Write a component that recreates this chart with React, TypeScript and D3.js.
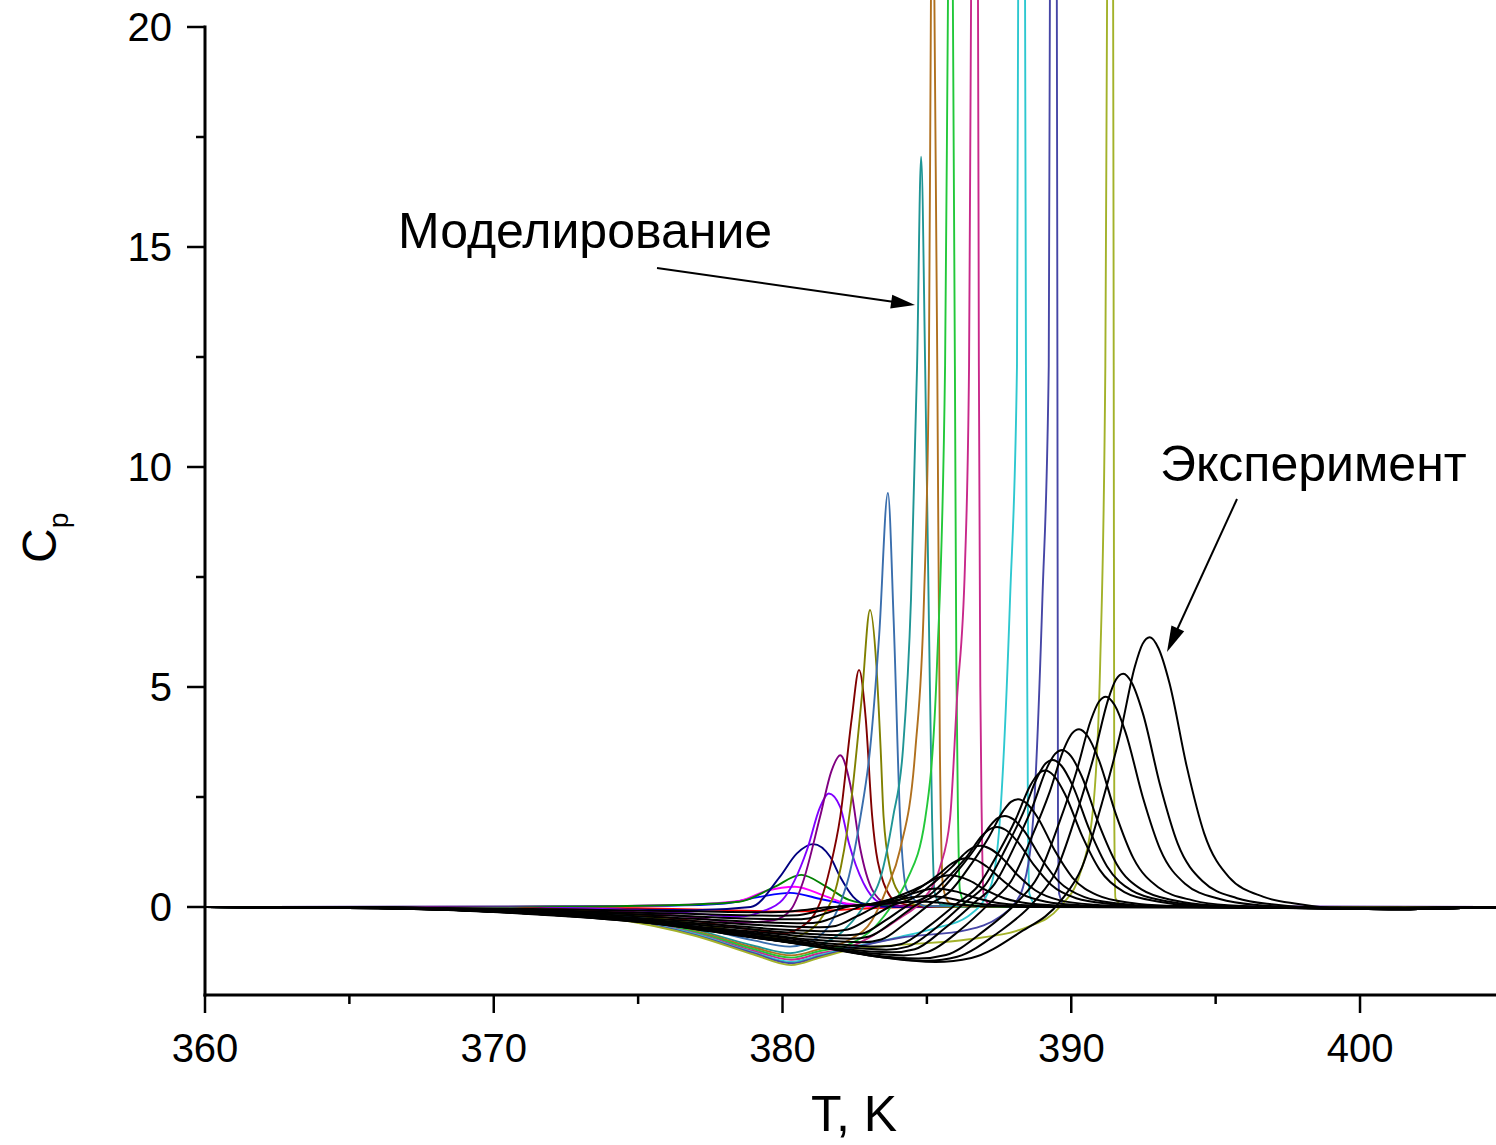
import React from 'react';
import * as d3 from 'd3';

type Pt = [number, number];

// Axis ticks
const xMajorTicks = [360, 370, 380, 390, 400];
const xMinorTicks = [365, 375, 385, 395];
const yMajorTicks = [0, 5, 10, 15, 20];
const yMinorTicks = [2.5, 7.5, 12.5, 17.5];

// Simulated Cp(T) curves ("Моделирование")
const simRed: Pt[] = [[360,0],[370,-0.01],[375,-0.03],[378,-0.07],[380,-0.1],[381.5,-0.08],[383,-0.03],[385,0],[405.5,0]];
const simBlue: Pt[] = [[360,0],[372,0.01],[376,0.03],[378,0.08],[379.2,0.23],[380.26,0.32],[381.4,0.17],[382.4,0.05],[384,0],[405.5,0]];
const simMagenta: Pt[] = [[360,0],[372,0.01],[376,0.04],[378.5,0.14],[379.46,0.37],[380.43,0.46],[381.5,0.24],[382.2,0.08],[383.5,0.01],[405.5,0]];
const simGreen: Pt[] = [[360,0],[372,0.01],[376,0.04],[378.5,0.12],[379.7,0.45],[380.65,0.73],[381.5,0.47],[382.3,0.16],[383.3,0.04],[385,0],[405.5,0]];
const simNavy: Pt[] = [[360,0],[370,-0.02],[374,-0.05],[377,-0.07],[378.9,0],[379.9,0.68],[380.5,1.22],[381.06,1.43],[381.65,1.14],[382,0.68],[382.45,0.23],[382.9,0.05],[384,0],[405.5,0]];
const simViolet: Pt[] = [[360,0],[370,-0.01],[374,-0.05],[377,-0.15],[378.5,-0.22],[379.3,-0.1],[380,0.16],[380.85,1.3],[381.3,2.27],[381.6,2.58],[382,2.27],[382.3,1.45],[382.8,0.55],[383.4,0.1],[384.5,0.01],[405.5,0]];
const simPurple: Pt[] = [[360,0],[370,-0.015],[374,-0.08],[377,-0.24],[378.5,-0.36],[379.7,-0.3],[380.3,-0.05],[380.7,0.55],[381.3,2.05],[381.7,3.1],[382,3.45],[382.34,2.8],[382.7,1.3],[383.1,0.4],[383.6,0.08],[384.5,0.01],[405.5,0]];
const simWine: Pt[] = [[360,0],[370,-0.02],[374,-0.12],[377,-0.32],[379,-0.52],[380,-0.6],[380.85,-0.36],[381.3,0.1],[381.65,0.9],[382,2.05],[382.4,4.3],[382.65,5.39],[382.88,4.3],[383.1,2.1],[383.5,0.55],[384,0.1],[385,0.01],[405.5,0]];
const simOlive: Pt[] = [[360,0],[370,-0.025],[374,-0.14],[377,-0.38],[379,-0.62],[380,-0.72],[380.9,-0.55],[381.4,-0.2],[381.9,0.55],[382.34,2.2],[382.75,4.8],[383.03,6.75],[383.25,5.5],[383.4,3.57],[383.5,2.05],[383.75,0.8],[384,0.35],[384.6,0.05],[386,0],[405.5,0]];
const simSteel: Pt[] = [[360,0],[370,-0.03],[374,-0.17],[377,-0.45],[379,-0.76],[380.26,-0.9],[381.2,-0.7],[381.9,-0.07],[382.3,0.7],[382.7,2.05],[383.03,3.57],[383.35,6.2],[383.65,9.41],[383.85,6.5],[384.07,2.05],[384.3,0.4],[385,0.02],[405.5,0]];
const simTeal: Pt[] = [[360,0],[370,-0.03],[374,-0.2],[377,-0.52],[379,-0.88],[380.26,-1.05],[381.2,-0.88],[382,-0.6],[382.8,0],[383.4,0.68],[383.83,2.05],[384.17,3.57],[384.45,7],[384.66,12.3],[384.8,17.05],[384.94,12.3],[385.07,6.5],[385.18,2],[385.26,0.35],[385.5,0.05],[387,0],[405.5,0]];
const simBrown: Pt[] = [[360,0],[370,-0.033],[374,-0.21],[377,-0.55],[379,-0.92],[380.3,-1.1],[381.3,-0.95],[382.3,-0.75],[383.1,-0.3],[383.6,0.4],[384.07,1.3],[384.6,3.57],[384.9,7],[385.07,12.3],[385.14,20.6],[385.2,26],[385.26,20.6],[385.36,12.3],[385.45,3.57],[385.56,0.45],[385.8,0.08],[387,0],[405.5,0]];
const simLime: Pt[] = [[360,0],[370,-0.035],[374,-0.22],[377,-0.57],[379,-0.96],[380.3,-1.15],[381.3,-1],[382.3,-0.85],[383.2,-0.45],[383.8,0.05],[384.3,0.6],[384.94,2],[385.35,5.5],[385.63,12.3],[385.73,20.6],[385.82,27],[385.9,20.6],[385.97,12.3],[386.02,5.5],[386.08,2],[386.14,0.4],[386.35,0.05],[388,0],[405.5,0]];
const simPink: Pt[] = [[360,0],[370,-0.04],[374,-0.23],[377,-0.6],[379,-1],[380.3,-1.2],[381.3,-1.05],[382.3,-0.92],[383.2,-0.62],[384.07,-0.25],[384.76,0.1],[385.45,0.9],[385.8,2],[386.04,4.7],[386.32,7.8],[386.46,12.3],[386.53,20.6],[386.65,27],[386.77,20.6],[386.8,12.3],[386.85,5],[386.9,2],[386.96,0.3],[387.2,0.04],[389,0],[405.5,0]];
const simCyan: Pt[] = [[360,0],[370,-0.04],[374,-0.24],[377,-0.62],[379,-1.03],[380.3,-1.25],[381.3,-1.09],[382.3,-0.93],[384.07,-0.68],[385.3,-0.48],[386.4,-0.22],[387.2,0.45],[387.53,2],[387.88,7],[388.12,12.3],[388.16,20.6],[388.28,27],[388.4,20.6],[388.43,12.3],[388.46,7],[388.5,2],[388.55,0.3],[388.8,0.03],[390,0],[405.5,0]];
const simSlate: Pt[] = [[360,0],[370,-0.04],[374,-0.24],[377,-0.64],[379,-1.05],[380.3,-1.28],[381.3,-1.12],[382.3,-0.95],[384.07,-0.7],[386.4,-0.52],[387.53,-0.22],[388,0.05],[388.33,0.45],[388.68,2],[389,7],[389.22,12.3],[389.26,20.6],[389.38,27],[389.5,20.6],[389.52,12.3],[389.54,2],[389.58,0.3],[389.8,0.02],[391,0],[405.5,0]];
const simYellow: Pt[] = [[360,0],[370,-0.04],[374,-0.25],[377,-0.66],[379,-1.08],[380.3,-1.32],[381.3,-1.15],[382.3,-0.98],[384.07,-0.86],[386.4,-0.74],[388.5,-0.45],[389.6,0],[390.3,0.75],[390.75,2.2],[391,5.5],[391.18,12.3],[391.24,20.6],[391.35,27],[391.45,20.6],[391.47,12.3],[391.49,2],[391.53,0.2],[391.8,0.02],[393,0],[405.5,0]];

const simSeries: Pt[][] = [simRed, simBlue, simMagenta, simGreen, simNavy, simViolet, simPurple, simWine, simOlive, simSteel, simTeal, simBrown, simLime, simPink, simCyan, simSlate, simYellow];
const simColors = ['#ff0000', '#0000ff', '#ff00ff', '#008000', '#000080', '#8000ff', '#800080', '#800000', '#808000', '#3a6ead', '#1f9595', '#b0701e', '#22c83a', '#c8288a', '#2ec8d0', '#4646a6', '#a3b22a'];

// Measured Cp(T) curves ("Эксперимент")
const expA: Pt[] = [[360,0],[366,-0.03],[370,-0.09],[374,-0.25],[377,-0.45],[379.5,-0.73],[381.75,-0.95],[383.5,-1.15],[385.3,-1.25],[386.54,-1.16],[388.17,-0.6],[389.66,0.16],[390.37,0.9],[391.1,2.45],[391.7,3.95],[392.2,5.46],[392.47,5.98],[392.72,6.13],[393.02,5.88],[393.4,5.09],[394,3.19],[394.6,1.68],[395.46,0.68],[396.66,0.23],[397.86,0.07],[399.5,-0.04],[401.5,-0.05],[403.5,-0.02],[405.5,0]];
const expB: Pt[] = [[360,0],[366,-0.03],[373.7,-0.24],[376.7,-0.44],[379.2,-0.71],[381.45,-0.93],[383.2,-1.12],[385,-1.22],[386.05,-1.13],[387.45,-0.59],[388.74,0.14],[389.45,0.78],[390.18,2.12],[390.78,3.42],[391.28,4.72],[391.55,5.17],[391.8,5.3],[392.1,5.09],[392.48,4.4],[393.08,2.76],[393.68,1.45],[394.54,0.59],[395.74,0.2],[396.94,0.06],[399.5,-0.04],[401.5,-0.05],[403.5,-0.02],[405.5,0]];
const expC: Pt[] = [[360,0],[366,-0.03],[373.4,-0.23],[376.4,-0.42],[378.9,-0.68],[381.15,-0.89],[382.9,-1.08],[384.7,-1.17],[385.66,-1.09],[386.94,-0.56],[388.14,0.12],[388.85,0.7],[389.58,1.91],[390.18,3.08],[390.68,4.25],[390.95,4.66],[391.2,4.78],[391.5,4.59],[391.88,3.97],[392.48,2.49],[393.08,1.31],[393.94,0.53],[395.14,0.18],[396.34,0.05],[399.5,-0.04],[401.5,-0.05],[403.5,-0.02],[405.5,0]];
const expD: Pt[] = [[360,0],[366,-0.03],[372.9,-0.22],[375.9,-0.4],[378.4,-0.64],[380.65,-0.84],[382.4,-1.01],[384.2,-1.1],[385.03,-1.02],[386.14,-0.53],[387.21,0.11],[387.92,0.59],[388.65,1.62],[389.25,2.61],[389.75,3.6],[390.02,3.94],[390.27,4.04],[390.57,3.88],[390.95,3.35],[391.55,2.1],[392.15,1.11],[393.01,0.45],[394.21,0.15],[395.41,0.04],[399.5,-0.04],[401.5,-0.05],[403.5,-0.02],[405.5,0]];
const expE: Pt[] = [[360,0],[366,-0.026],[372.5,-0.21],[375.5,-0.37],[378,-0.6],[380.25,-0.78],[382,-0.95],[383.8,-1.03],[384.58,-0.96],[385.61,-0.49],[386.63,0.09],[387.34,0.52],[388.07,1.43],[388.67,2.3],[389.17,3.18],[389.44,3.48],[389.69,3.57],[389.99,3.43],[390.37,2.96],[390.97,1.86],[391.57,0.98],[392.43,0.4],[393.63,0.14],[394.83,0.04],[399.5,-0.04],[401.5,-0.05],[403.5,-0.02],[405.5,0]];
const expF: Pt[] = [[360,0],[366,-0.024],[372.3,-0.19],[375.3,-0.35],[377.8,-0.56],[380.05,-0.74],[381.8,-0.89],[383.6,-0.97],[384.34,-0.9],[385.32,-0.47],[386.3,0.09],[387.01,0.49],[387.74,1.34],[388.34,2.15],[388.84,2.97],[389.11,3.26],[389.36,3.34],[389.66,3.21],[390.04,2.77],[390.64,1.74],[391.24,0.92],[392.1,0.37],[393.3,0.13],[394.5,0.04],[399.5,-0.04],[401.5,-0.05],[403.5,-0.02],[405.5,0]];
const expG: Pt[] = [[360,0],[366,-0.022],[372.1,-0.18],[375.1,-0.32],[377.6,-0.52],[379.85,-0.68],[381.6,-0.83],[383.4,-0.9],[384.12,-0.84],[385.08,-0.43],[386.04,0.08],[386.75,0.46],[387.48,1.24],[388.08,2],[388.58,2.76],[388.85,3.02],[389.1,3.1],[389.4,2.98],[389.78,2.57],[390.38,1.61],[390.98,0.85],[391.84,0.34],[393.04,0.12],[394.24,0.03],[399.5,-0.04],[401.5,-0.05],[403.5,-0.02],[405.5,0]];
const expH: Pt[] = [[360,0],[366,-0.02],[371.5,-0.16],[374.5,-0.29],[377,-0.46],[379.25,-0.61],[381,-0.74],[382.8,-0.8],[383.42,-0.74],[384.24,-0.38],[385.1,0.06],[385.81,0.36],[386.54,0.98],[387.14,1.58],[387.64,2.18],[387.91,2.39],[388.16,2.45],[388.46,2.35],[388.84,2.03],[389.44,1.27],[390.04,0.67],[390.9,0.27],[392.1,0.09],[393.3,0.03],[399.5,-0.03],[401.5,-0.04],[403.5,-0.02],[405.5,0]];
const expI: Pt[] = [[360,0],[366,-0.018],[371.1,-0.14],[374.1,-0.26],[376.6,-0.42],[378.85,-0.55],[380.6,-0.66],[382.4,-0.72],[383,-0.67],[383.8,-0.35],[384.64,0.05],[385.35,0.3],[386.08,0.83],[386.68,1.34],[387.18,1.84],[387.45,2.02],[387.7,2.07],[388,1.99],[388.38,1.72],[388.98,1.08],[389.58,0.57],[390.44,0.23],[391.64,0.08],[392.84,0.02],[399.5,-0.03],[401.5,-0.04],[403.5,-0.02],[405.5,0]];
const expJ: Pt[] = [[360,0],[366,-0.016],[370.9,-0.13],[373.9,-0.23],[376.4,-0.37],[378.65,-0.49],[380.4,-0.59],[382.2,-0.64],[382.78,-0.6],[383.55,-0.31],[384.37,0.05],[385.08,0.27],[385.81,0.73],[386.41,1.17],[386.91,1.62],[387.18,1.77],[387.43,1.82],[387.73,1.75],[388.11,1.51],[388.71,0.95],[389.31,0.5],[390.17,0.2],[391.37,0.07],[392.57,0.02],[399.5,-0.03],[401.5,-0.04],[403.5,-0.02],[405.5,0]];
const expK: Pt[] = [[360,0],[366,-0.014],[370.4,-0.11],[373.4,-0.2],[375.9,-0.32],[378.15,-0.42],[379.9,-0.51],[381.7,-0.55],[382.26,-0.51],[383.01,-0.26],[383.81,0.04],[384.52,0.2],[385.25,0.56],[385.85,0.9],[386.35,1.24],[386.62,1.36],[386.87,1.39],[387.17,1.33],[387.55,1.15],[388.15,0.72],[388.75,0.38],[389.61,0.15],[390.81,0.05],[392.01,0.02],[399.5,-0.03],[401.5,-0.04],[403.5,-0.02],[405.5,0]];
const expL: Pt[] = [[360,0],[366,-0.012],[370,-0.09],[373,-0.17],[375.5,-0.27],[377.75,-0.35],[379.5,-0.42],[381.3,-0.46],[381.84,-0.43],[382.55,-0.22],[383.33,0.03],[384.04,0.16],[384.77,0.44],[385.37,0.72],[385.87,0.99],[386.14,1.08],[386.39,1.11],[386.69,1.07],[387.07,0.92],[387.67,0.58],[388.27,0.3],[389.13,0.12],[390.33,0.04],[391.53,0.01],[399.5,-0.02],[401.5,-0.03],[403.5,-0.01],[405.5,0]];
const expM: Pt[] = [[360,0],[366,-0.009],[369.5,-0.07],[372.5,-0.13],[375,-0.21],[377.25,-0.28],[379,-0.34],[380.8,-0.37],[381.31,-0.34],[381.99,-0.18],[382.74,0.02],[383.45,0.11],[384.18,0.29],[384.78,0.46],[385.28,0.64],[385.55,0.7],[385.8,0.72],[386.1,0.69],[386.48,0.6],[387.08,0.37],[387.68,0.2],[388.54,0.08],[389.74,0.03],[390.94,0.01],[399.5,-0.02],[401.5,-0.03],[403.5,-0.01],[405.5,0]];
const expN: Pt[] = [[360,0],[366,-0.007],[369.1,-0.056],[372.1,-0.1],[374.6,-0.16],[376.85,-0.21],[378.6,-0.26],[380.4,-0.28],[380.9,-0.26],[381.56,-0.13],[382.29,0.01],[383,0.06],[383.73,0.17],[384.33,0.27],[384.83,0.37],[385.1,0.41],[385.35,0.42],[385.65,0.4],[386.03,0.35],[386.63,0.22],[387.23,0.12],[388.09,0.05],[389.29,0.02],[390.49,0],[399.5,-0.02],[401.5,-0.02],[403.5,-0.01],[405.5,0]];
const expO: Pt[] = [[360,0],[366,-0.005],[368.7,-0.04],[371.7,-0.07],[374.2,-0.12],[376.45,-0.15],[378.2,-0.18],[380,-0.2],[380.51,-0.19],[381.19,-0.1],[381.94,0.01],[382.65,0.04],[383.38,0.1],[383.98,0.16],[384.48,0.22],[384.75,0.24],[385,0.25],[385.3,0.24],[385.68,0.21],[386.28,0.13],[386.88,0.07],[387.74,0.03],[388.94,0.01],[390.14,0],[399.5,-0.01],[401.5,-0.02],[403.5,-0.01],[405.5,0]];
const expP: Pt[] = [[360,0],[366,-0.003],[368.3,-0.024],[371.3,-0.043],[373.8,-0.07],[376.05,-0.09],[377.8,-0.11],[379.6,-0.12],[380.14,-0.11],[380.86,-0.06],[381.64,0],[382.35,0.02],[383.08,0.05],[383.68,0.08],[384.18,0.11],[384.45,0.118],[384.7,0.12],[385,0.117],[385.38,0.1],[385.98,0.06],[386.58,0.03],[387.44,0.01],[388.64,0],[399.5,-0.01],[405.5,0]];

const expSeries: Pt[][] = [expP, expO, expN, expM, expL, expK, expJ, expI, expH, expG, expF, expE, expD, expC, expB, expA];

const FONT = '"Liberation Sans", Arial, Helvetica, sans-serif';

function arrowHead(x1: number, y1: number, x2: number, y2: number, len: number, half: number) {
  const dx = x2 - x1, dy = y2 - y1;
  const L = Math.hypot(dx, dy);
  const ux = dx / L, uy = dy / L;
  const bx = x2 - ux * len, by = y2 - uy * len;
  return `${x2},${y2} ${bx - uy * half},${by + ux * half} ${bx + uy * half},${by - ux * half}`;
}

export default function App() {
  const W = 1496, H = 1145;
  const x = d3.scaleLinear().domain([360, 405]).range([205, 1504.4]);
  const y = d3.scaleLinear().domain([-2, 20]).range([995, 27]);
  const line = d3.line<Pt>().x(d => x(d[0])).y(d => y(d[1])).curve(d3.curveMonotoneX);

  const axisY = y(-2);
  const axisX = x(360);

  const simArrow = { x1: 657, y1: 268, x2: 915, y2: 305 };
  const expArrow = { x1: 1237, y1: 499, x2: 1167, y2: 652 };

  return (
    <div style={{ position: 'absolute', left: 0, top: 0, width: W, height: H, background: '#fff' }}>
      <svg width={W} height={H} viewBox={`0 0 ${W} ${H}`} style={{ display: 'block' }}>
        <defs>
          <clipPath id="plotClip">
            <rect x={axisX} y={0} width={W - axisX} height={axisY} />
          </clipPath>
        </defs>
        <rect x={0} y={0} width={W} height={H} fill="#fff" />

        <g clipPath="url(#plotClip)" fill="none" strokeLinejoin="round" strokeLinecap="round">
          {simSeries.map((s, i) => (
            <path key={`s${i}`} d={line(s) || ''} stroke={simColors[i]} strokeWidth={1.9} />
          ))}
          {expSeries.map((s, i) => (
            <path key={`e${i}`} d={line(s) || ''} stroke="#000" strokeWidth={2} />
          ))}
        </g>

        {/* axes */}
        <g stroke="#000" strokeWidth={3} fill="none">
          <line x1={axisX} y1={y(20) - 1.5} x2={axisX} y2={axisY + 1.5} />
          <line x1={axisX - 1.5} y1={axisY} x2={W} y2={axisY} />
        </g>
        <g stroke="#000" strokeWidth={2.5}>
          {xMajorTicks.map(t => <line key={`xm${t}`} x1={x(t)} x2={x(t)} y1={axisY} y2={axisY + 18} />)}
          {xMinorTicks.map(t => <line key={`xn${t}`} x1={x(t)} x2={x(t)} y1={axisY} y2={axisY + 9} />)}
          {yMajorTicks.map(t => <line key={`ym${t}`} x1={axisX - 18} x2={axisX} y1={y(t)} y2={y(t)} />)}
          {yMinorTicks.map(t => <line key={`yn${t}`} x1={axisX - 9} x2={axisX} y1={y(t)} y2={y(t)} />)}
        </g>
        <g fontFamily={FONT} fontSize={40} fill="#000">
          {xMajorTicks.map(t => (
            <text key={`xl${t}`} x={x(t)} y={1062} textAnchor="middle">{t}</text>
          ))}
          {yMajorTicks.map(t => (
            <text key={`yl${t}`} x={172} y={y(t) + 14} textAnchor="end">{t}</text>
          ))}
        </g>

        {/* axis titles */}
        <text x={854} y={1131} textAnchor="middle" fontFamily={FONT} fontSize={50} fill="#000">T, K</text>
        <text transform="translate(56,563) rotate(-90)" fontFamily={FONT} fontSize={48} fill="#000">
          C<tspan fontSize={28} dy={12}>p</tspan>
        </text>

        {/* annotations */}
        <text x={398} y={248} fontFamily={FONT} fontSize={50} fill="#000">Моделирование</text>
        <line x1={simArrow.x1} y1={simArrow.y1} x2={simArrow.x2 - 10} y2={simArrow.y2 - 1.4} stroke="#000" strokeWidth={2} />
        <polygon points={arrowHead(simArrow.x1, simArrow.y1, simArrow.x2, simArrow.y2, 24, 7)} fill="#000" />

        <text x={1160} y={481} fontFamily={FONT} fontSize={50} fill="#000">Эксперимент</text>
        <line x1={expArrow.x1} y1={expArrow.y1} x2={expArrow.x2 + 4} y2={expArrow.y2 - 9} stroke="#000" strokeWidth={2} />
        <polygon points={arrowHead(expArrow.x1, expArrow.y1, expArrow.x2, expArrow.y2, 26, 7)} fill="#000" />
      </svg>
    </div>
  );
}
